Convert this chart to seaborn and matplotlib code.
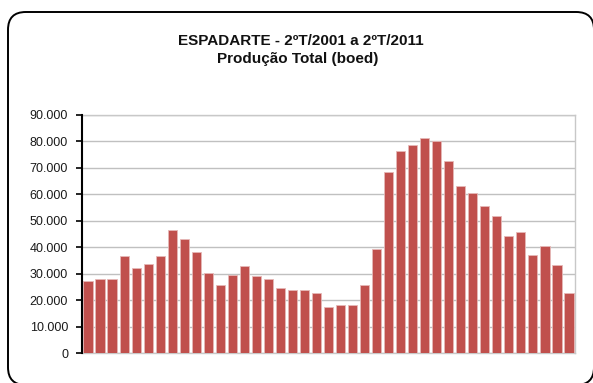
import matplotlib
matplotlib.use("Agg")
import matplotlib.pyplot as plt
from matplotlib.patches import FancyBboxPatch
from matplotlib.ticker import FuncFormatter, MultipleLocator
import seaborn as sns
import pandas as pd

# Quarterly total production of the Espadarte field, 2Q2001 to 2Q2011 (boed)
quarters = [f"{q}T/{y}" for y in range(2001, 2012) for q in range(1, 5)][1:42]
production = [
    27200, 27900, 27900, 36700, 32300, 33800, 36700, 46400, 43100, 38200,
    30100, 25700, 29600, 32800, 29000, 27900, 24600, 24000, 24000, 22600,
    17500, 18200, 18200, 25800, 39200, 68300, 76400, 78500, 81300, 80300,
    72600, 63300, 60600, 55700, 51900, 44200, 45900, 37200, 40500, 33400,
    22600,
]
title_lines = ["ESPADARTE - 2ºT/2001 a 2ºT/2011", "Produção Total (boed)"]

df = pd.DataFrame({"trimestre": quarters, "producao": production})

sns.set_theme(style="white")
plt.rcParams["font.family"] = ["Liberation Sans", "DejaVu Sans"]

W, H = 593, 383
fig = plt.figure(figsize=(W / 100, H / 100), dpi=100)
fig.patch.set_facecolor("white")

# Rounded outer frame (runs slightly past the right and bottom edges)
frame = FancyBboxPatch(
    (8 / W, 1 - 385 / H), (594 - 8) / W, (385 - 12) / H,
    boxstyle="round,pad=0,rounding_size=0.03",
    transform=fig.transFigure, facecolor="none", edgecolor="black",
    linewidth=1.4, mutation_aspect=W / H, clip_on=False,
)
fig.patches.append(frame)

ax = fig.add_axes([82 / W, 1 - 353 / H, (575 - 82) / W, (353 - 115) / H])
sns.barplot(data=df, x="trimestre", y="producao", color="#C0504D",
            saturation=1, width=0.76, edgecolor="#E6B8B7", linewidth=0.6,
            ax=ax, zorder=3)

ax.set_ylim(0, 90000)
ax.set_xlim(-0.5, len(quarters) - 0.5)
ax.yaxis.set_major_locator(MultipleLocator(10000))
ax.yaxis.set_major_formatter(
    FuncFormatter(lambda v, _: f"{int(v):,}".replace(",", ".")))
ax.set_xlabel("")
ax.set_ylabel("")
ax.set_xticks([])
ax.grid(axis="y", color="#C0C0C0", linewidth=1.0, zorder=0)
ax.set_axisbelow(True)

for side in ("top", "right", "bottom"):
    ax.spines[side].set_color("#C8C8C8")
    ax.spines[side].set_linewidth(1.0)
ax.spines["left"].set_color("black")
ax.spines["left"].set_linewidth(1.5)
ax.spines["left"].set_zorder(5)

ax.tick_params(axis="y", left=True, length=4, width=1.2, color="black",
               direction="out", labelsize=9, labelcolor="#1a1a1a", pad=6)

fig.text(301 / W, 1 - 41 / H, title_lines[0], ha="center", va="center",
         fontsize=11, fontweight="bold", color="#111111")
fig.text(298 / W, 1 - 58.5 / H, title_lines[1], ha="center", va="center",
         fontsize=11, fontweight="bold", color="#111111")

fig.savefig("out.png", dpi=100)
